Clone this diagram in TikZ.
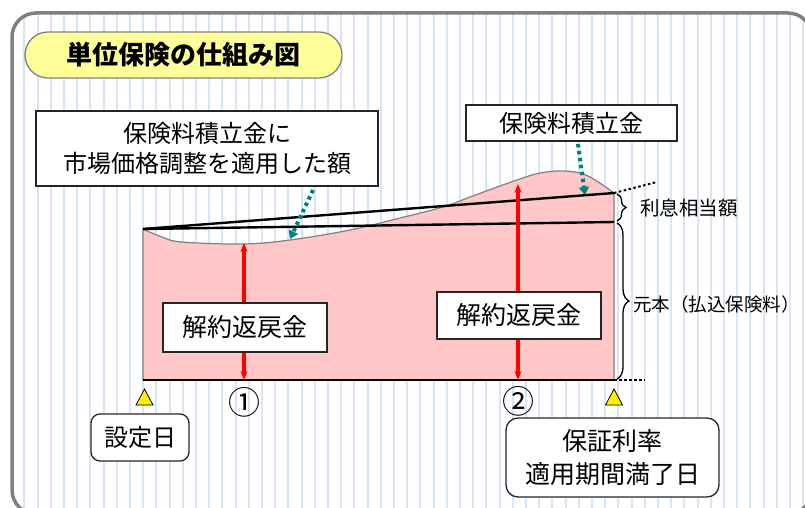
\documentclass[tikz,border=0pt]{standalone}
\usepackage{fontspec}
\setmainfont{Noto Sans CJK JP}
\usetikzlibrary{arrows.meta,decorations.pathreplacing}
\definecolor{stripe}{RGB}{214,230,247}
\definecolor{frame}{RGB}{128,128,128}
\definecolor{pinkfill}{RGB}{255,199,199}
\definecolor{pilly}{RGB}{255,255,153}
\definecolor{tealc}{RGB}{0,128,128}
\newcommand{\fsz}[1]{\fontsize{#1}{#1}\selectfont}
\begin{document}
\begin{tikzpicture}[x=1pt,y=-1pt,
 box/.style={draw=black!85, line width=1.3pt, fill=white, inner sep=0pt},
 rbox/.style={box, rounded corners=9pt},
 lbl/.style={inner sep=0pt, anchor=west},
 redarr/.style={red, line width=3.2pt, {Stealth[length=9pt,width=7pt]}-{Stealth[length=9pt,width=7pt]}},
 tealarr/.style={tealc, line width=4pt, dash pattern=on 3.5pt off 3.5pt, -{Triangle[length=8pt,width=10pt]}},
 bline/.style={black, line width=2.4pt},
 dline/.style={black, line width=2pt, dash pattern=on 2.5pt off 2.5pt},
 bracestyle/.style={decorate, black, line width=1.3pt},
 tri/.style={fill=yellow, draw=black, line width=0.8pt}
]
\useasboundingbox (0,0) rectangle (805,508);
\fill[white] (0,0) rectangle (805,508);
\begin{scope}
\clip[rounded corners=24pt] (12,13) rectangle (812,514);
\foreach \k in {-3,...,58} \draw[stripe, line width=2pt] ({64+13.2*\k},0) -- ({64+13.2*\k},514);
\end{scope}
\draw[frame, line width=3.5pt, rounded corners=24pt] (12,13) rectangle (812,514);

% title
\node[draw=frame, line width=1.3pt, fill=pilly, rounded corners=23pt, minimum width=317pt, minimum height=46pt, font=\fsz{26}\bfseries] (title) at (183.5,55) {単位保険の仕組み図};

% pink area
\coordinate (TL) at (143,229);
\coordinate (BL) at (143,380);
\coordinate (BR) at (614,380);
\coordinate (TR) at (614,193);
\coordinate (LR) at (614,222);
\filldraw[fill=pinkfill, draw=gray, line width=1.2pt] plot[smooth, tension=0.6] coordinates {(143,229) (162,237) (182,242) (243,244) (290,240) (350,230) (400,218) (443,207) (470,197) (500,186) (520,179) (540,173) (565,171) (588,176) (614,193)} -- (BR) -- (BL) -- cycle;

\draw[bline] (TL) -- (TR);
\draw[bline] (TL) -- (LR);
\draw[bline] (BL) -- (BR);
\coordinate (TRx) at (657,182);
\draw[dline] (TR) -- (TRx);
\coordinate (BRx) at (645,380);
\draw[dline] (BR) -- (BRx);

% braces
\coordinate (b1a) at (617,194);
\coordinate (b1b) at (617,221);
\draw[bracestyle, decoration={brace,amplitude=9pt}] (b1a) -- (b1b);
\coordinate (b2a) at (617,223);
\coordinate (b2b) at (617,379);
\draw[bracestyle, decoration={brace,amplitude=12pt}] (b2a) -- (b2b);
\node[lbl, font=\fsz{19.5}] (intl) at (640,208) {利息相当額};
\node[lbl, font=\fsz{18.5}] (prin) at (633,304) {元本（払込保険料）};

% red arrows
\coordinate (r1t) at (244,243);
\coordinate (r1b) at (244,380);
\draw[redarr] (r1t) -- (r1b);
\coordinate (r2t) at (518,184);
\coordinate (r2b) at (518,380);
\draw[redarr] (r2t) -- (r2b);

% boxes
\node[box, minimum width=164pt, minimum height=49pt, font=\fsz{25}] (cv1) at (245,327.5) {解約返戻金};
\node[box, minimum width=164pt, minimum height=47pt, font=\fsz{25}] (cv2) at (519,315.5) {解約返戻金};
\node[box, minimum width=342pt, minimum height=75pt, align=center, font=\fontsize{24}{30}\selectfont] (acc1) at (207,148.5) {保険料積立金に\\市場価格調整を適用した額};
\node[box, minimum width=211pt, minimum height=36pt, font=\fsz{24}] (acc2) at (571.5,123) {保険料積立金};

% teal arrows
\coordinate (t1s) at (313,190);
\coordinate (t1e) at (290,239);
\draw[tealarr] (t1s) -- (t1e);
\coordinate (t2s) at (578,144);
\coordinate (t2e) at (585,195);
\draw[tealarr] (t2s) -- (t2e);

% markers
\node[font=\fsz{32}, inner sep=0pt] (c1) at (244,402) {①};
\node[font=\fsz{32}, inner sep=0pt] (c2) at (518,401) {②};
\filldraw[tri] (136,405) -- (153,405) -- (144.5,389) -- cycle;
\filldraw[tri] (605.5,405) -- (622.5,405) -- (614,389) -- cycle;

\node[rbox, minimum width=98pt, minimum height=47pt, font=\fsz{24}] (setd) at (140,437.5) {設定日};
\node[rbox, rounded corners=12pt, minimum width=213pt, minimum height=79pt, align=center, font=\fontsize{25}{33}\selectfont] (mat) at (612.5,457.5) {保証利率\\適用期間満了日};
\end{tikzpicture}
\end{document}
